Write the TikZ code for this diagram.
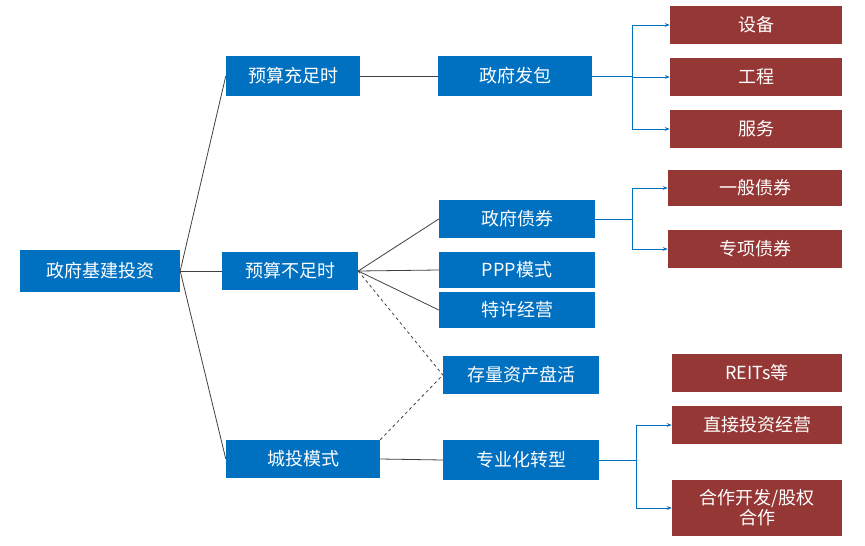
\documentclass[tikz,border=0pt]{standalone}
\usepackage{fontspec}
\setmainfont{Noto Sans CJK SC}
\usetikzlibrary{arrows.meta}
\definecolor{bbox}{HTML}{0070C0}
\definecolor{rbox}{HTML}{953735}
\begin{document}
\begin{tikzpicture}[x=1pt,y=-1pt,
  bx/.style={fill=bbox,text=white,minimum height=#1,inner sep=0pt,font=\fontsize{18}{20}\selectfont},
  blue/.style={bx=40,minimum width=156},
  red/.style={fill=rbox,text=white,minimum width=172,minimum height=38,inner sep=0pt,font=\fontsize{18}{20}\selectfont,align=center},
  ln/.style={draw=black!75,line width=0.8pt},
  br/.style={draw=bbox,line width=0.8pt},
  ar/.style={br,-{Stealth[length=5pt]}}]
\useasboundingbox (0,0) rectangle (865,546);
\node[bx=42,minimum width=160] (root) at (100,271) {政府基建投资};
\node[bx=40,minimum width=134] (a1) at (293,76) {预算充足时};
\node[bx=38,minimum width=136] (a2) at (290,271) {预算不足时};
\node[bx=38,minimum width=154] (a3) at (303,459) {城投模式};
\node[blue,minimum width=154] (b1) at (515,76) {政府发包};
\node[blue,minimum height=38] (b2) at (517,219) {政府债券};
\node[blue,minimum height=36] (b3) at (517,270) {PPP模式};
\node[blue,minimum height=36] (b4) at (517,310) {特许经营};
\node[blue,minimum height=38] (b5) at (521,375) {存量资产盘活};
\node[blue] (b6) at (521,460) {专业化转型};
\node[red] (r1) at (756,25) {设备};
\node[red] (r2) at (756,77) {工程};
\node[red] (r3) at (756,129) {服务};
\node[red,minimum width=174,minimum height=36] (r4) at (755,188) {一般债券};
\node[red,minimum width=174] (r5) at (755,249) {专项债券};
\node[red,minimum width=170] (r6) at (757,373) {REITs等};
\node[red,minimum width=170] (r7) at (757,425) {直接投资经营};
\node[red,minimum width=170,minimum height=56] (r8) at (757,508) {合作开发/股权\\合作};
\draw[ln] (root.east) -- (a1.west);
\draw[ln] (root.east) -- (a2.west);
\draw[ln] (root.east) -- (a3.west);
\draw[ln] (a1.east) -- (b1.west);
\draw[ln] (a2.east) -- (b2.west);
\draw[ln] (a2.east) -- (b3.west);
\draw[ln] (a2.east) -- (b4.west);
\draw[ln,dashed] (a2.east) -- (b5.west);
\draw[ln,dashed] (a3.north east) -- (b5.west);
\draw[ln] (a3.east) -- (b6.west);
\coordinate (j1) at (632,76);
\draw[br] (b1.east) -- (j1);
\draw[br] (632,25) -- (632,129);
\draw[ar] (632,25) -- (r1.west);
\draw[ar] (632,77) -- (r2.west);
\draw[ar] (632,129) -- (r3.west);
\coordinate (j2) at (632,219);
\draw[br] (b2.east) -- (j2);
\draw[br] (632,188) -- (632,249);
\draw[ar] (632,188) -- (r4.west);
\draw[ar] (632,249) -- (r5.west);
\coordinate (j3) at (636,460);
\draw[br] (b6.east) -- (j3);
\draw[br] (636,425) -- (636,508);
\draw[ar] (636,425) -- (r7.west);
\draw[ar] (636,508) -- (r8.west);
\end{tikzpicture}
\end{document}
